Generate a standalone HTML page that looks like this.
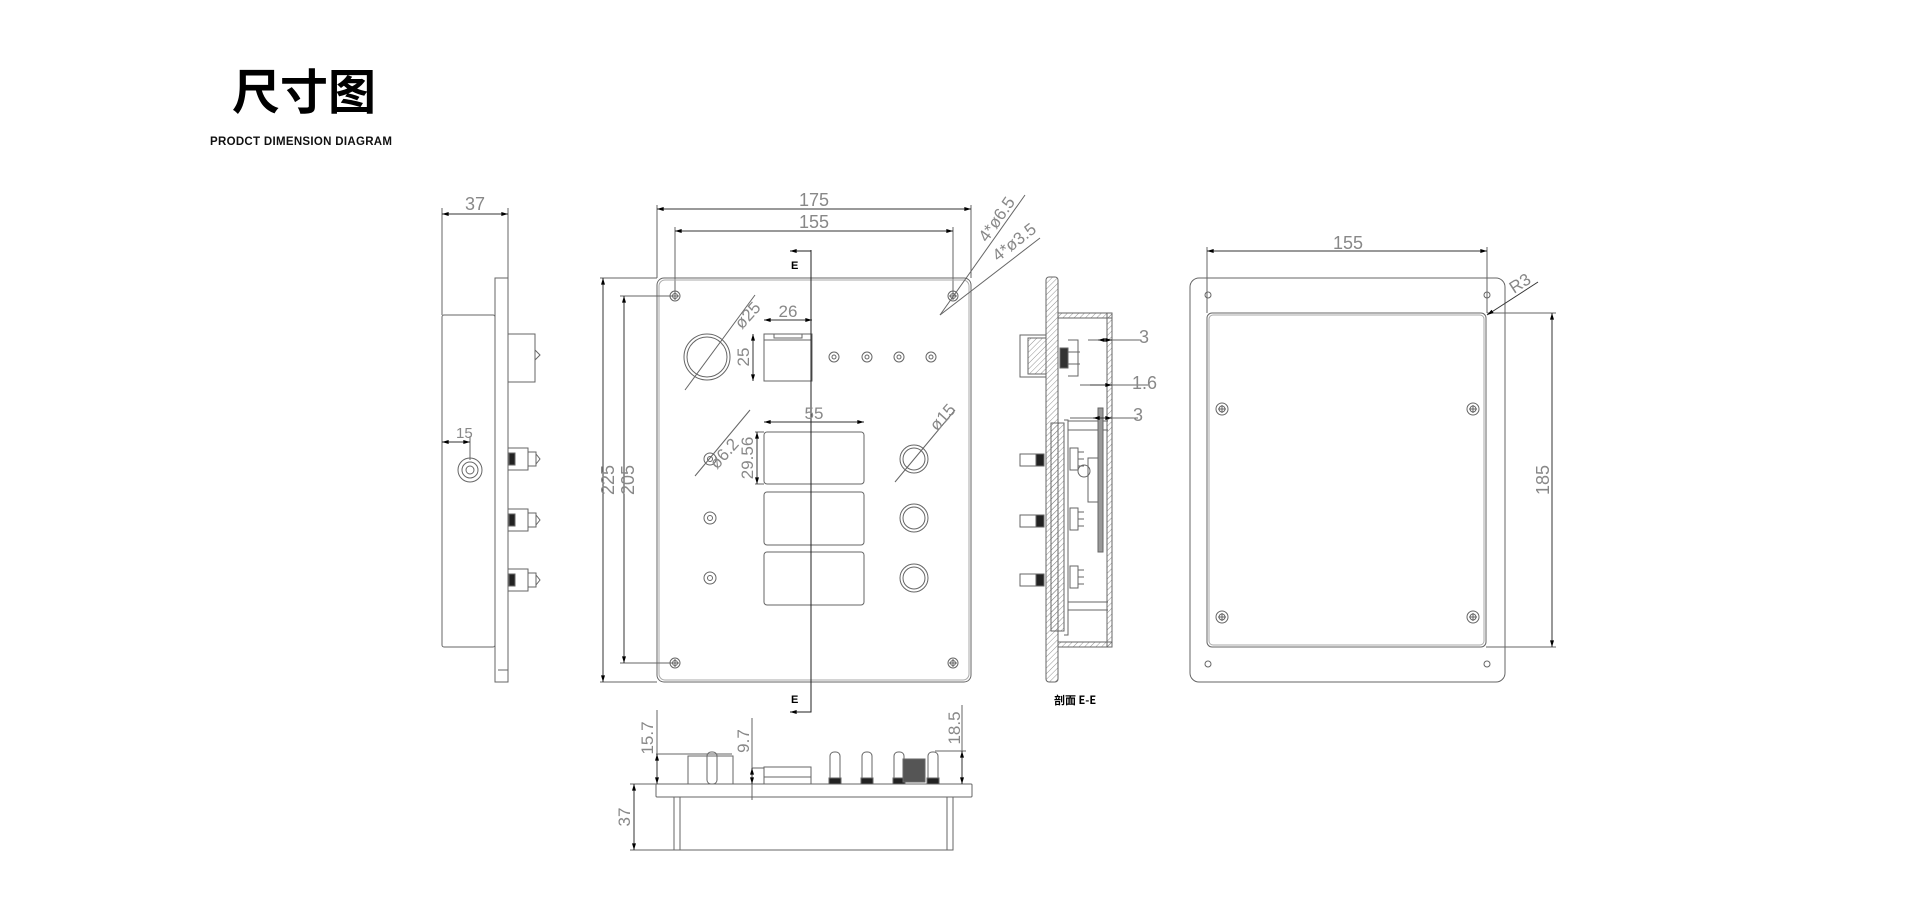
<!DOCTYPE html>
<html><head><meta charset="utf-8"><style>
html,body{margin:0;padding:0;background:#fff;width:1920px;height:899px;overflow:hidden}
svg{position:absolute;left:0;top:0}
.t{font-family:"Liberation Sans","Noto Sans CJK SC",sans-serif}
</style></head><body>
<svg width="1920" height="899" viewBox="0 0 1920 899" xmlns="http://www.w3.org/2000/svg">
<defs>
<marker id="a" viewBox="0 0 10 6" refX="10" refY="3" markerWidth="10" markerHeight="4" orient="auto-start-reverse" markerUnits="userSpaceOnUse"><path d="M0,0L10,3L0,6z" fill="#000"/></marker>
<pattern id="h" width="4" height="4" patternUnits="userSpaceOnUse" patternTransform="rotate(45)"><line x1="0" y1="0" x2="0" y2="4" stroke="#777" stroke-width="0.8"/></pattern>
</defs>
<text x="232" y="109" class="t" font-size="48" font-weight="bold" fill="#000" font-family="Noto Sans CJK SC, sans-serif">尺寸图</text>
<text x="210" y="145" class="t" font-size="11.5" font-weight="bold" fill="#111" textLength="182" lengthAdjust="spacing">PRODCT  DIMENSION  DIAGRAM</text>

<g fill="none" stroke="#666" stroke-width="1">
<!-- LEFT SIDE VIEW -->
<line x1="442" y1="208" x2="442" y2="315"/><line x1="508" y1="208" x2="508" y2="278"/>
<line x1="442" y1="214" x2="508" y2="214" stroke="#333" marker-start="url(#a)" marker-end="url(#a)"/>
<rect x="495" y="278" width="13" height="404"/><line x1="498" y1="670" x2="508" y2="670"/>
<rect x="442" y="315" width="53" height="332" rx="2"/>
<rect x="508" y="334" width="27" height="48"/><path d="M535,350 l5,5 l-5,5"/>
<g id="bul"><rect x="508" y="448" width="20" height="22"/><rect x="509" y="453" width="6" height="12" fill="#222"/><rect x="528" y="452" width="8" height="14"/><path d="M536,454 l4,5 l-4,5"/></g>
<use href="#bul" y="61"/><use href="#bul" y="121"/>
<circle cx="470" cy="470" r="12"/><circle cx="470" cy="470" r="8"/><circle cx="470" cy="470" r="4"/>
<line x1="470" y1="436" x2="470" y2="460"/><line x1="442" y1="442" x2="470" y2="442" stroke="#333" marker-start="url(#a)" marker-end="url(#a)"/>

<!-- FRONT VIEW -->
<line x1="657" y1="205" x2="657" y2="278"/><line x1="971" y1="205" x2="971" y2="278"/>
<line x1="657" y1="209" x2="971" y2="209" stroke="#333" marker-start="url(#a)" marker-end="url(#a)"/>
<line x1="675" y1="227" x2="675" y2="296"/><line x1="953" y1="227" x2="953" y2="296"/>
<line x1="675" y1="231" x2="953" y2="231" stroke="#333" marker-start="url(#a)" marker-end="url(#a)"/>
<rect x="657" y="278" width="314" height="404" rx="7"/><rect x="659" y="280" width="310" height="400" rx="6" stroke="#aaa"/>
<line x1="600" y1="278" x2="657" y2="278"/><line x1="600" y1="682" x2="657" y2="682"/>
<line x1="603" y1="278" x2="603" y2="682" stroke="#333" marker-start="url(#a)" marker-end="url(#a)"/>
<line x1="620" y1="296" x2="675" y2="296"/><line x1="620" y1="663" x2="675" y2="663"/>
<line x1="624" y1="296" x2="624" y2="663" stroke="#333" marker-start="url(#a)" marker-end="url(#a)"/>
<g id="sc"><circle cx="675" cy="296" r="5"/><circle cx="675" cy="296" r="2.5"/><path d="M671,296h8M675,292v8"/></g>
<use href="#sc" x="278"/><use href="#sc" y="367"/><use href="#sc" x="278" y="367"/>
<circle cx="707" cy="357" r="23"/><circle cx="707" cy="357" r="20"/>
<line x1="685" y1="390" x2="755" y2="295"/>
<rect x="764" y="334" width="48" height="47"/><rect x="774" y="334" width="28" height="4"/><line x1="764" y1="340" x2="812" y2="340"/>
<line x1="764" y1="320" x2="812" y2="320" stroke="#333" marker-start="url(#a)" marker-end="url(#a)"/>
<line x1="753" y1="334" x2="753" y2="381" stroke="#333" marker-start="url(#a)" marker-end="url(#a)"/>
<g id="led"><circle cx="834" cy="357" r="5"/><circle cx="834" cy="357" r="2"/></g>
<use href="#led" x="33"/><use href="#led" x="65"/><use href="#led" x="97"/>
<rect x="764" y="432" width="100" height="52" rx="3"/><rect x="764" y="492" width="100" height="53" rx="3"/><rect x="764" y="552" width="100" height="53" rx="3"/>
<line x1="764" y1="422" x2="864" y2="422" stroke="#333" marker-start="url(#a)" marker-end="url(#a)"/>
<line x1="755" y1="432" x2="764" y2="432"/><line x1="755" y1="484" x2="764" y2="484"/>
<line x1="757" y1="432" x2="757" y2="484" stroke="#333" marker-start="url(#a)" marker-end="url(#a)"/>
<g id="sh"><circle cx="710" cy="459" r="6"/><circle cx="710" cy="459" r="2.5"/></g>
<use href="#sh" y="59"/><use href="#sh" y="119"/>
<line x1="695" y1="476" x2="750" y2="410"/>
<g id="bt"><circle cx="914" cy="459" r="14"/><circle cx="914" cy="459" r="11"/></g>
<use href="#bt" y="59"/><use href="#bt" y="119"/>
<line x1="895" y1="482" x2="955" y2="410"/>
<line x1="811" y1="250" x2="811" y2="705" stroke="#222"/>
<line x1="790" y1="251" x2="811" y2="251" stroke="#222" marker-start="url(#a)"/>
<line x1="940" y1="315" x2="1025" y2="195"/><line x1="940" y1="315" x2="1040" y2="238"/>

<!-- SECTION VIEW -->
<rect x="1046" y="277" width="12" height="405" rx="3" fill="url(#h)"/>
<path d="M1058,313H1112V647H1058" /><path d="M1058,318H1107V642H1058" stroke="#888"/>
<rect x="1058" y="313" width="54" height="5" fill="url(#h)"/><rect x="1107" y="313" width="5" height="334" fill="url(#h)"/><rect x="1058" y="642" width="54" height="5" fill="url(#h)"/>
<rect x="1020" y="335" width="26" height="42"/><rect x="1028" y="338" width="18" height="36" fill="url(#h)"/>
<rect x="1060" y="348" width="8" height="20" fill="#333"/><path d="M1068,340h10v36h-10M1068,352h12M1068,364h12"/>
<rect x="1051" y="423" width="13" height="208" fill="url(#h)"/><path d="M1064,420h4v215h-4"/>
<path d="M1068,421h40M1068,430h40M1068,602h40M1068,610h40"/>
<rect x="1098" y="408" width="5" height="144" fill="#999"/>
<circle cx="1084" cy="471" r="6"/><path d="M1088,458h10v44h-10z"/>
<path d="M1070,448h8v22h-8zM1070,508h8v22h-8zM1070,566h8v22h-8z"/>
<path d="M1078,452h6M1078,459h6M1078,466h6M1078,512h6M1078,519h6M1078,526h6M1078,570h6M1078,577h6M1078,584h6"/>
<g id="sb"><rect x="1020" y="454" width="16" height="12"/><rect x="1036" y="454" width="8" height="12" fill="#222"/></g>
<use href="#sb" y="61"/><use href="#sb" y="120"/>
<line x1="1088" y1="340" x2="1140" y2="340"/><line x1="1098" y1="340" x2="1112" y2="340" stroke="#333" marker-start="url(#a)" marker-end="url(#a)"/>
<line x1="1080" y1="385" x2="1148" y2="385"/><line x1="1090" y1="385" x2="1112" y2="385" stroke="#333" marker-end="url(#a)"/>
<line x1="1070" y1="418" x2="1138" y2="418"/><line x1="1093" y1="418" x2="1112" y2="418" stroke="#333" marker-start="url(#a)" marker-end="url(#a)"/>

<!-- BOTTOM VIEW -->
<rect x="656" y="784" width="316" height="13" rx="1"/><rect x="674" y="797" width="279" height="53"/><line x1="680" y1="797" x2="680" y2="850"/><line x1="947" y1="797" x2="947" y2="850"/>
<rect x="688" y="756" width="45" height="28"/><rect x="707" y="752" width="10" height="32" rx="4"/>
<rect x="764" y="767" width="47" height="17"/><line x1="764" y1="777" x2="811" y2="777"/>
<g id="bp"><rect x="830" y="752" width="10" height="30" rx="4"/><rect x="829" y="778" width="12" height="6" fill="#222"/></g>
<use href="#bp" x="32"/><use href="#bp" x="64"/><use href="#bp" x="98"/>
<rect x="903" y="759" width="22" height="23" fill="#555"/>
<line x1="656" y1="754" x2="732" y2="754"/><line x1="657" y1="710" x2="657" y2="784"/>
<line x1="657" y1="754" x2="657" y2="784" stroke="#333" marker-start="url(#a)" marker-end="url(#a)"/>
<line x1="752" y1="718" x2="752" y2="800"/><line x1="752" y1="768" x2="764" y2="768"/>
<line x1="752" y1="768" x2="752" y2="784" stroke="#333" marker-start="url(#a)" marker-end="url(#a)"/>
<line x1="935" y1="751" x2="966" y2="751"/><line x1="962" y1="705" x2="962" y2="784"/>
<line x1="962" y1="751" x2="962" y2="784" stroke="#333" marker-start="url(#a)" marker-end="url(#a)"/>
<line x1="630" y1="784" x2="656" y2="784"/><line x1="630" y1="850" x2="674" y2="850"/>
<line x1="634" y1="784" x2="634" y2="850" stroke="#333" marker-start="url(#a)" marker-end="url(#a)"/>
<path d="M811,700V712H790" stroke="#222" marker-end="url(#a)"/>

<!-- RIGHT VIEW -->
<rect x="1190" y="278" width="315" height="404" rx="9"/>
<rect x="1207" y="313" width="279" height="334" rx="5"/><rect x="1209" y="315" width="275" height="330" rx="4" stroke="#aaa"/>
<circle cx="1208" cy="295" r="3"/><circle cx="1487" cy="295" r="3"/><circle cx="1208" cy="664" r="3"/><circle cx="1487" cy="664" r="3"/>
<g id="rs"><circle cx="1222" cy="409" r="6"/><circle cx="1222" cy="409" r="3"/><path d="M1218,409h8M1222,405v8"/></g>
<use href="#rs" x="251"/><use href="#rs" y="208"/><use href="#rs" x="251" y="208"/>
<line x1="1207" y1="247" x2="1207" y2="313"/><line x1="1487" y1="247" x2="1487" y2="313"/>
<line x1="1207" y1="251" x2="1487" y2="251" stroke="#333" marker-start="url(#a)" marker-end="url(#a)"/>
<line x1="1487" y1="313" x2="1556" y2="313"/><line x1="1486" y1="647" x2="1556" y2="647"/>
<line x1="1552" y1="313" x2="1552" y2="647" stroke="#333" marker-start="url(#a)" marker-end="url(#a)"/>
<line x1="1538" y1="282" x2="1487" y2="315" stroke="#333" marker-end="url(#a)"/>
</g>

<g class="t" fill="#888" font-size="18">
<text x="475" y="210" text-anchor="middle">37</text>
<text x="814" y="206" text-anchor="middle">175</text>
<text x="814" y="228" text-anchor="middle">155</text>
<text x="1348" y="249" text-anchor="middle">155</text>
<text x="788" y="317" text-anchor="middle" font-size="17">26</text>
<text x="814" y="419" text-anchor="middle" font-size="17">55</text>
<text x="456" y="438" font-size="15">15</text>
<text x="1139" y="343">3</text><text x="1132" y="389">1.6</text><text x="1133" y="421">3</text>
<text transform="translate(614,480) rotate(-90)" text-anchor="middle">225</text>
<text transform="translate(634,480) rotate(-90)" text-anchor="middle">205</text>
<text transform="translate(749,357) rotate(-90)" text-anchor="middle" font-size="17">25</text>
<text transform="translate(753,458) rotate(-90)" text-anchor="middle" font-size="17">29.56</text>
<text transform="translate(1549,480) rotate(-90)" text-anchor="middle">185</text>
<text transform="translate(653,738) rotate(-90)" text-anchor="middle" font-size="17">15.7</text>
<text transform="translate(749,741) rotate(-90)" text-anchor="middle" font-size="17">9.7</text>
<text transform="translate(960,728) rotate(-90)" text-anchor="middle" font-size="17">18.5</text>
<text transform="translate(630,817) rotate(-90)" text-anchor="middle" font-size="17">37</text>
<text transform="translate(742,330) rotate(-48)" font-size="17">ø25</text>
<text transform="translate(717,470) rotate(-48)" font-size="17">ø6.2</text>
<text transform="translate(937,432) rotate(-48)" font-size="17">ø15</text>
<text transform="translate(987,243) rotate(-55)" font-size="17">4*ø6.5</text>
<text transform="translate(998,262) rotate(-38)" font-size="17">4*ø3.5</text>
<text transform="translate(1514,294) rotate(-33)" font-size="17">R3</text>
</g>
<g class="t" font-size="11" font-weight="bold" fill="#000">
<text x="791" y="269">E</text><text x="791" y="703">E</text>
<text x="1054" y="704" font-family="Noto Sans CJK SC, sans-serif">剖面 E-E</text>
</g>
</svg>
</body></html>
